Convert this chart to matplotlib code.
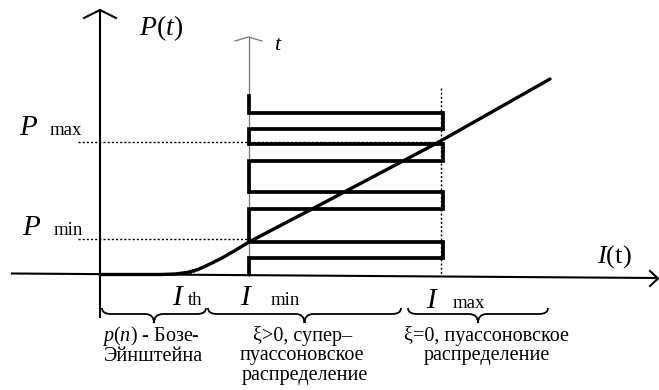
"""
Схема: зависимость мощности P от тока накачки I и статистика фотонов
"""
import matplotlib
matplotlib.use("Agg")
import matplotlib.pyplot as plt
from matplotlib.path import Path
from matplotlib.patches import PathPatch

plt.rcParams['font.family'] = ['Liberation Serif', 'DejaVu Serif']
plt.rcParams['mathtext.fontset'] = 'custom'
plt.rcParams['mathtext.rm'] = 'Liberation Serif'
plt.rcParams['mathtext.it'] = 'Liberation Serif:italic'

# ---- данные схемы (координаты в пикселях исходного рисунка) ----
# кривая P(I)
curve_I = [100, 160, 175, 187, 198, 210, 222, 235, 249, 270, 333, 437, 550]
curve_P = [274.5, 274.5, 274, 272.5, 269.5, 264, 258, 250.5, 242, 231, 198, 143, 79]

# уровни импульсов (ось t вверх)
pulse_levels = [274, 258, 242, 209, 192, 161, 144, 129, 113, 96]
pulse_left = 249
pulse_right = 443

# пороговые значения
I_min = 249
I_max = 441
P_min = 239
P_max = 142

# фигурные скобки под осью: (начало, конец)
brace_spans = [(102, 206), (208, 401), (408, 548)]

# подписи под скобками: (текст, x центра, базовая линия)
region_lines = [
    ("$p(n)$ - Бозе-", 151, 341),
    ("Эйнштейна", 153, 361),
    ("ξ>0, супер–", 303, 341),
    ("пуассоновское", 302, 360),
    ("распределение", 305, 380),
    ("ξ=0, пуассоновское", 487, 341),
    ("распределение", 487, 360),
]

fig = plt.figure(figsize=(6.59, 3.90), dpi=100)
ax = fig.add_axes([0, 0, 1, 1])
ax.set_xlim(0, 659)
ax.set_ylim(390, 0)
ax.axis('off')

k = 'black'

# оси
ax.plot([100, 100], [317, 10], color=k, lw=1.5)
ax.plot([84, 100, 116], [18, 10, 18], color=k, lw=1.5)
ax.plot([12, 657], [273.5, 278], color=k, lw=1.5)
ax.plot([650, 658, 650], [271, 278.5, 286], color=k, lw=1.5)
ax.plot([248.5, 248.5], [276, 37], color='#777777', lw=0.9)
ax.plot([235, 248.5, 262], [41, 37, 41], color='#777777', lw=0.9)

# пунктирные уровни
dot = (0, (1.5, 1.5))
ax.plot([78, I_max], [P_max, P_max], color=k, lw=1.0, ls=dot)
ax.plot([78, I_min], [P_min, P_min], color=k, lw=1.0, ls=dot)
ax.plot([I_max, I_max], [88, 276], color=k, lw=1.0, ls=dot)

# импульсы
xs = [pulse_left]
ys = [pulse_levels[0]]
side = pulse_left
for lv in pulse_levels[1:-1]:
    xs.append(side)
    ys.append(lv)
    side = pulse_right if side == pulse_left else pulse_left
    xs.append(side)
    ys.append(lv)
xs.append(side)
ys.append(pulse_levels[-1])
ax.plot(xs, ys, color=k, lw=2.7, solid_joinstyle='miter')

# кривая P(I)
ax.plot(curve_I, curve_P, color=k, lw=2.4, solid_capstyle='round',
        solid_joinstyle='round')
ax.plot([190, 215], [274, 262], color=k, lw=0.9, ls=dot)


def brace(x0, x1, y0=308, ym=314, yt=323, r=9):
    xm = (x0 + x1) / 2
    verts = [(x0, y0), (x0, ym), (x0 + r, ym),
             (xm - r, ym),
             (xm, ym), (xm, yt),
             (xm, ym), (xm + r, ym),
             (x1 - r, ym),
             (x1, ym), (x1, y0)]
    codes = [Path.MOVETO, Path.CURVE3, Path.CURVE3,
             Path.LINETO,
             Path.CURVE3, Path.CURVE3,
             Path.CURVE3, Path.CURVE3,
             Path.LINETO,
             Path.CURVE3, Path.CURVE3]
    ax.add_patch(PathPatch(Path(verts, codes), fill=False, ec=k, lw=1.3))


for a, b in brace_spans:
    brace(a, b)

# подписи
big = 21
small = 13.5
it = dict(fontstyle='italic', fontsize=big, va='baseline', ha='left')
sm = dict(fontsize=small, va='baseline', ha='left')

ax.text(19, 135, "P", **it)
ax.text(50, 135, "max", **sm)
ax.text(22, 235, "P", **it)
ax.text(54, 235, "min", **sm)
ax.text(172, 305, "I", **it)
ax.text(188, 305, "th", **sm)
ax.text(240, 305, "I", **it)
ax.text(271, 305, "min", **sm)
ax.text(426, 308, "I", **it)
ax.text(453, 308, "max", **sm)

ax.text(139, 35, "$P(t)$", fontsize=20, va='baseline', ha='left')
ax.text(597, 263, "$I$(t)", fontsize=19, va='baseline', ha='left')
ax.text(274, 50, "t", fontstyle='italic', fontsize=16, va='baseline', ha='left')

for txt, xc, yb in region_lines:
    ax.text(xc, yb, txt, fontsize=14.5, va='baseline', ha='center')

fig.savefig('out.png', dpi=100)
